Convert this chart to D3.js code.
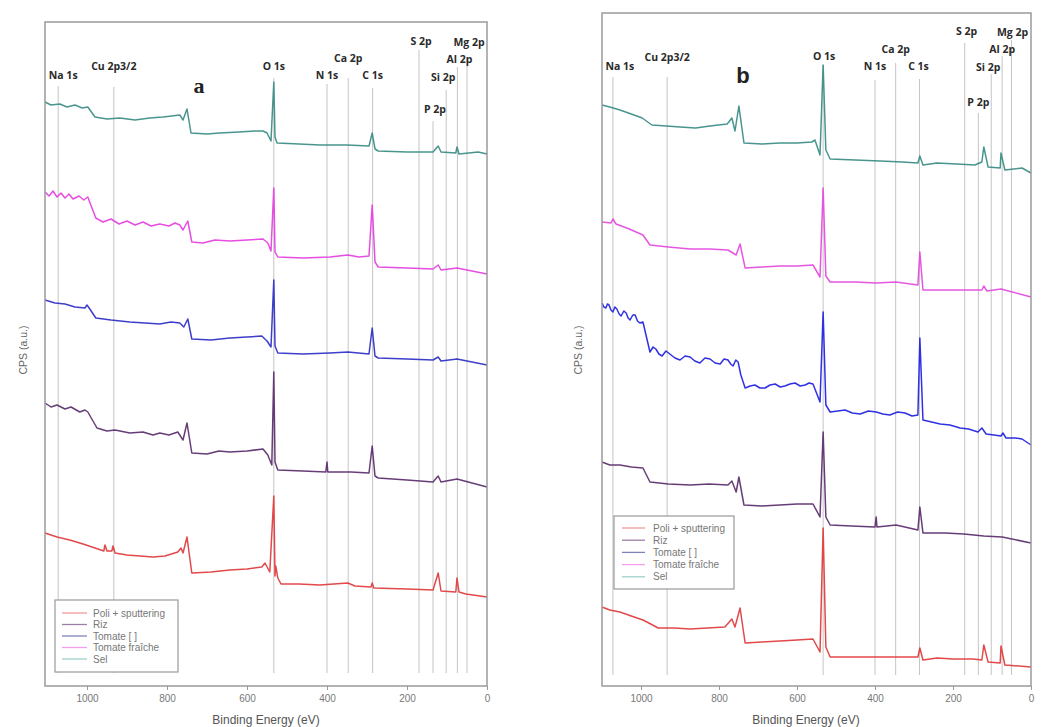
<!DOCTYPE html>
<html><head><meta charset="utf-8">
<script src="https://cdn.jsdelivr.net/npm/d3@7"></script>
<style>body{margin:0;background:#fff}</style>
</head><body>
<svg id="c" width="1050" height="727"></svg>
<script>
// ---------- data ----------
const peakNames = ["Na 1s","Cu 2p3/2","O 1s","N 1s","Ca 2p","C 1s","S 2p","P 2p","Si 2p","Al 2p","Mg 2p"];
const peakBE = [1072,933,533,400,347,286,170,135,102,74,50];
const seriesNames = ["Poli + sputtering","Riz","Tomate [ ]","Tomate fraîche","Sel"];
const xTicks = [1000,800,600,400,200,0];

// panel a : [binding energy (eV), CPS (a.u.)]
const aSel = [[1105,58.4],[1090,58.1],[1068,58.2],[1050,57.9],[1030,58.1],[1012,57.8],[998,57.9],[980,56.9],[950,56.7],[918,56.8],[880,56.6],[843,56.8],[810,56.9],[788,57.0],[768,57.1],[760,56.6],[750,57.7],[740,55.3],[700,55.2],[668,55.3],[620,55.4],[580,55.5],[560,55.5],[550,55.3],[540,54.5],[533,60.4],[530,54.9],[525,54.3],[470,54.2],[418,54.1],[350,54.1],[295,54.0],[287,55.3],[280,53.7],[272,53.5],[200,53.4],[135,53.4],[122,54.0],[115,53.4],[78,53.3],[75,53.9],[70,53.2],[22,53.4],[0,53.2]];
const aTomF = [[1105,49.4],[1095,49.0],[1085,49.5],[1075,48.9],[1065,49.3],[1055,48.8],[1045,49.2],[1035,48.7],[1020,49.0],[1008,48.6],[998,48.9],[978,46.8],[960,46.4],[940,46.7],[920,46.2],[900,46.5],[880,46.1],[860,46.4],[840,46.0],[818,46.2],[795,46.0],[780,46.3],[768,46.1],[760,45.6],[748,46.5],[738,44.4],[710,44.3],[680,44.6],[643,44.5],[600,44.6],[560,44.7],[548,44.3],[540,43.5],[533,49.8],[530,43.4],[523,42.9],[460,42.8],[393,42.9],[348,43.1],[320,42.9],[295,43.0],[287,48.1],[280,42.4],[272,41.9],[200,41.8],[135,41.7],[122,42.1],[115,41.6],[75,41.8],[0,41.2]];
const aTomC = [[1105,38.6],[1080,38.3],[1055,38.2],[1030,37.9],[1005,37.8],[1000,38.1],[993,37.7],[978,36.8],[940,36.6],[893,36.4],[855,36.3],[818,36.2],[790,36.4],[768,36.3],[758,35.9],[748,36.7],[738,34.7],[690,34.6],[643,34.8],[600,34.9],[563,35.0],[550,34.5],[540,33.9],[533,40.6],[530,34.0],[523,33.3],[460,33.2],[393,33.3],[348,33.4],[295,33.2],[287,35.8],[280,33.0],[272,32.8],[200,32.7],[135,32.6],[122,32.9],[115,32.5],[75,32.7],[0,32.1]];
const aRiz = [[1105,28.3],[1090,27.9],[1075,28.1],[1055,27.7],[1040,27.9],[1018,27.4],[1005,27.6],[998,27.4],[975,25.8],[950,25.5],[930,25.6],[893,25.3],[860,25.4],[835,25.1],[818,25.3],[795,25.1],[773,25.4],[760,24.6],[750,26.3],[738,23.3],[700,23.2],[670,23.5],[643,23.4],[600,23.5],[560,23.7],[548,23.1],[538,22.1],[533,31.4],[530,22.4],[523,21.6],[460,21.5],[403,21.4],[400,22.4],[398,21.4],[340,21.4],[295,21.3],[287,24.0],[280,21.0],[272,20.8],[200,20.6],[135,20.4],[122,21.0],[115,20.4],[75,20.7],[0,19.9]];
const aPoli = [[1105,15.3],[1075,14.9],[1043,14.6],[1010,14.2],[980,13.8],[958,13.5],[955,14.1],[950,13.5],[938,13.5],[935,14.0],[930,13.3],[900,13.1],[868,13.0],[835,12.9],[805,13.0],[773,13.4],[765,13.8],[760,13.3],[750,14.9],[738,11.3],[690,11.4],[643,11.6],[600,11.7],[563,11.9],[555,12.3],[543,11.4],[533,19.0],[530,11.0],[528,12.0],[523,10.8],[515,10.2],[470,10.2],[418,10.1],[348,10.3],[330,10.0],[290,9.9],[287,10.3],[283,9.8],[200,9.7],[135,9.6],[122,11.3],[115,9.5],[78,9.4],[75,10.8],[70,9.4],[53,9.2],[0,8.9]];

// panel b
const bSel = [[1100,58.1],[1080,57.9],[1054,57.6],[1025,57.2],[997,56.8],[972,56.1],[935,56.0],[900,55.9],[860,55.8],[823,56.0],[779,56.2],[767,56.8],[759,55.5],[749,58.0],[736,54.3],[690,54.2],[644,54.3],[600,54.3],[562,54.4],[554,54.6],[541,53.1],[533,62.1],[526,53.6],[515,52.7],[450,52.6],[387,52.5],[330,52.4],[290,52.3],[285,53.0],[277,52.1],[241,52.3],[190,52.2],[144,52.1],[126,52.4],[121,53.9],[110,51.9],[79,51.8],[77,53.3],[67,51.6],[23,51.8],[0,51.3]];
const bTomF = [[1100,46.4],[1077,46.3],[1072,46.7],[1064,46.2],[1030,45.7],[995,45.1],[977,44.1],[930,43.9],[874,43.7],[825,43.7],[777,43.6],[756,43.1],[746,44.2],[733,41.8],[690,41.9],[644,42.0],[600,42.0],[559,42.1],[541,40.9],[533,49.8],[526,41.0],[515,40.4],[450,40.4],[397,40.3],[346,40.4],[290,40.1],[285,43.4],[277,39.6],[200,39.6],[126,39.6],[121,40.0],[113,39.5],[77,39.7],[0,38.9]];
const bTomC = [[1100,38.3],[1095,37.9],[1090,37.8],[1086,38.2],[1082,38.1],[1077,37.6],[1072,37.4],[1067,37.9],[1062,37.7],[1056,37.2],[1051,37.0],[1044,37.5],[1038,37.3],[1033,36.8],[1028,36.6],[1021,37.1],[1015,37.1],[1009,36.5],[1003,36.3],[995,36.4],[977,33.4],[969,33.9],[962,33.7],[954,33.2],[946,33.0],[936,33.5],[926,33.2],[913,32.8],[900,32.6],[887,33.0],[874,32.9],[862,32.5],[849,32.3],[836,32.8],[823,32.7],[810,32.3],[797,32.2],[787,32.7],[777,32.6],[770,32.2],[764,32.0],[757,32.6],[751,32.4],[744,31.1],[733,29.8],[720,30.0],[708,30.1],[695,29.8],[682,29.8],[669,30.1],[656,30.2],[643,29.9],[631,30.0],[618,30.2],[605,30.3],[592,30.0],[579,30.1],[569,30.3],[559,30.2],[541,28.4],[533,37.4],[526,28.1],[515,27.4],[495,27.5],[477,27.6],[458,27.3],[438,27.2],[417,27.5],[397,27.4],[380,27.2],[362,27.1],[342,27.4],[323,27.3],[305,27.0],[290,27.1],[285,34.8],[277,26.6],[255,26.4],[233,26.2],[208,26.1],[182,25.8],[160,25.7],[136,25.4],[126,25.8],[115,25.2],[95,25.1],[77,25.0],[72,25.3],[64,24.8],[40,24.8],[23,24.7],[0,24.1]];
const bRiz = [[1100,22.4],[1080,22.1],[1054,22.1],[1025,21.9],[995,21.8],[977,20.4],[930,20.2],[874,20.1],[825,20.2],[777,20.1],[767,20.5],[756,19.4],[749,20.9],[736,18.1],[690,18.0],[644,18.1],[600,18.2],[559,18.2],[541,16.9],[533,25.4],[526,16.9],[515,16.1],[460,16.0],[400,15.9],[397,16.9],[395,15.9],[346,16.1],[290,15.6],[285,17.9],[277,15.3],[220,15.3],[172,15.2],[121,15.0],[74,14.9],[0,14.3]];
const bPoli = [[1100,7.9],[1080,7.6],[1054,7.4],[1025,7.0],[995,6.6],[975,6.2],[956,5.8],[915,5.8],[874,5.7],[830,5.8],[785,5.9],[767,6.7],[759,5.9],[746,7.8],[733,4.3],[690,4.4],[644,4.5],[600,4.6],[559,4.7],[541,3.4],[533,15.8],[526,3.9],[515,2.9],[400,2.9],[290,2.9],[285,3.8],[277,2.6],[241,2.8],[200,2.7],[149,2.7],[126,2.6],[121,4.1],[110,2.4],[79,2.3],[77,4.0],[67,2.1],[0,1.9]];

// ---------- layout / style ----------
const colorsA = ["#e0393c","#5a2c6c","#2d2fc4","#e43fe0","#3a8c84"];
const colorsB = ["#e0393c","#5a2c6c","#1e20e0","#e449de","#3a8c84"];
const legendColors = ["#f09a9a","#9a7fa6","#7f84b8","#f0a0ee","#9fd0c8"];

const panels = [
  {series:[aPoli,aRiz,aTomC,aTomF,aSel], colors:colorsA, xDomain:[1105,0], yDomain:[0,66.4],
   L:45,R:487,T:22,B:686, lineBottom:673,
   textY:[75,66,66,75,58,75,41,109,77,59,42],
   lineTop:[86,87,78,84,78,88,50,121,90,67,57],
   dx:[5,0,0,0,0,0,2,2,-3,2,2],
   letter:"a", letterX:199, letterY:85, letterFont:"'Liberation Serif', 'DejaVu Serif', serif",
   leg:{x:55,y:600,w:123,h:72,row0:613,step:11.5,lx0:62,lx1:87,tx:93},
   yLabX:23, axTitleX:266},
  {series:[bPoli,bRiz,bTomC,bTomF,bSel], colors:colorsB, xDomain:[1100,0], yDomain:[0,67.3],
   L:602,R:1031,T:13,B:686, lineBottom:675,
   textY:[66,57,56,66,49,66,31,102,67,49,32],
   lineTop:[77,77,65,80,63,79,43,113,74,56,40],
   dx:[7,0,1,0,0,-1,2,0,-3,0,1],
   letter:"b", letterX:743, letterY:75, letterFont:"'Liberation Sans', Arial, sans-serif",
   leg:{x:614,y:516,w:120,h:73,row0:528,step:12.2,lx0:622,lx1:645,tx:653},
   yLabX:578, axTitleX:806}
];

const svg = d3.select("#c");

panels.forEach(p => {
  const x = d3.scaleLinear().domain(p.xDomain).range([p.L, p.R]);
  const y = d3.scaleLinear().domain(p.yDomain).range([p.B, p.T]);
  const g = svg.append("g");

  // peak reference lines
  g.selectAll("line.ref").data(peakBE).join("line")
    .attr("x1", d => x(d)).attr("x2", d => x(d))
    .attr("y1", (d,i) => p.lineTop[i]).attr("y2", p.lineBottom)
    .attr("stroke", "#c4c4c4").attr("stroke-width", 1);

  // spectra
  const line = d3.line().x(d => x(d[0])).y(d => y(d[1]));
  p.series.forEach((s, i) => {
    g.append("path").datum(s).attr("d", line)
      .attr("fill","none").attr("stroke", p.colors[i])
      .attr("stroke-width", 1.5).attr("stroke-linejoin","round").attr("opacity",0.92);
  });

  // frame
  g.append("rect").attr("x", p.L).attr("y", p.T).attr("width", p.R - p.L).attr("height", p.B - p.T)
    .attr("fill","none").attr("stroke","#9a9a9a").attr("stroke-width",1.5);

  // x axis ticks
  const ax = g.append("g").attr("transform", `translate(0,${p.B})`)
    .call(d3.axisBottom(x).tickValues(xTicks).tickSize(4).tickFormat(d3.format("d")));
  ax.select(".domain").remove();
  ax.selectAll("line").attr("stroke","#999");
  ax.selectAll("text").attr("fill","#777").attr("font-size","10px")
    .attr("font-family","'Liberation Sans', Arial, sans-serif").attr("dy","0.9em");

  // peak labels
  g.selectAll("text.pk").data(peakNames).join("text")
    .attr("x", (d,i) => x(peakBE[i]) + p.dx[i]).attr("y", (d,i) => p.textY[i])
    .attr("dy","0.35em").attr("text-anchor","middle")
    .attr("font-family","'Open Sans', 'DejaVu Sans', sans-serif").attr("font-weight","bold")
    .attr("font-size","10.5px").attr("fill","#2a2a2a").text(d => d);

  // panel letter
  g.append("text").attr("x", p.letterX).attr("y", p.letterY).attr("dy","0.35em")
    .attr("text-anchor","middle").attr("font-family", p.letterFont).attr("font-weight","bold")
    .attr("font-size","22px").attr("fill","#222").text(p.letter);

  // axis titles
  g.append("text").attr("x", p.axTitleX).attr("y", 720).attr("dy","0.35em").attr("text-anchor","middle")
    .attr("font-family","'Liberation Sans', Arial, sans-serif").attr("font-size","12px").attr("fill","#555")
    .text("Binding Energy (eV)");
  g.append("text").attr("transform", `translate(${p.yLabX},350) rotate(-90)`).attr("dy","0.35em")
    .attr("text-anchor","middle").attr("font-family","'Liberation Sans', Arial, sans-serif")
    .attr("font-size","10.5px").attr("fill","#666").text("CPS (a.u.)");

  // legend
  const lg = p.leg;
  g.append("rect").attr("x", lg.x).attr("y", lg.y).attr("width", lg.w).attr("height", lg.h)
    .attr("fill","#fff").attr("stroke","#999").attr("stroke-width",1.2);
  seriesNames.forEach((n, i) => {
    const yy = lg.row0 + i * lg.step;
    g.append("line").attr("x1", lg.lx0).attr("x2", lg.lx1).attr("y1", yy).attr("y2", yy)
      .attr("stroke", legendColors[i]).attr("stroke-width", 1.3);
    g.append("text").attr("x", lg.tx).attr("y", yy).attr("dy","0.35em")
      .attr("font-family","'Liberation Sans', Arial, sans-serif").attr("font-size","10px")
      .attr("fill","#777").text(n);
  });
});
</script>
</body></html>
